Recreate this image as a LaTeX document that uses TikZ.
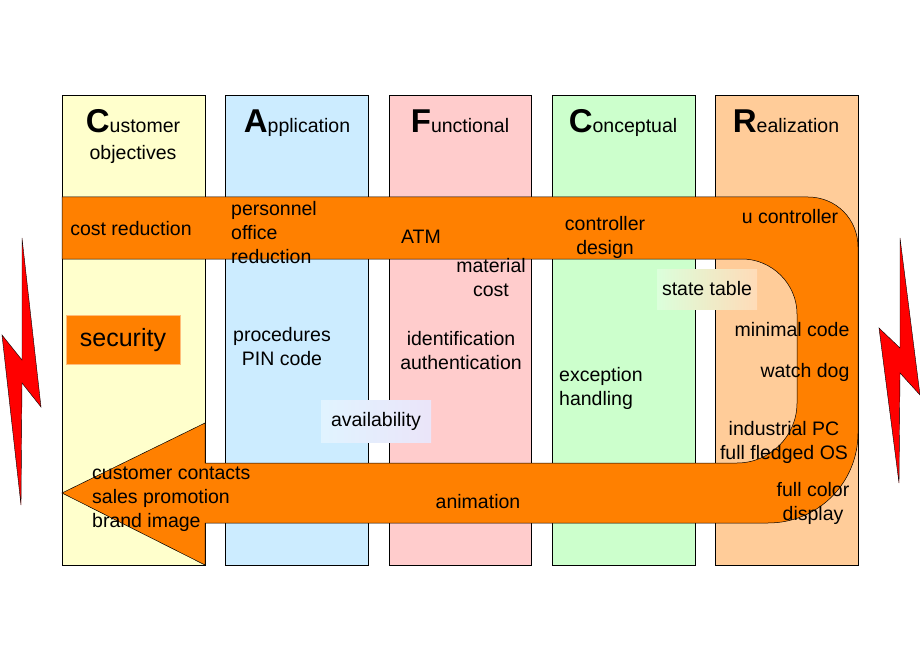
\documentclass[tikz,border=0pt]{standalone}
\usepackage{fontspec}
\setmainfont{Liberation Sans}
\begin{document}
\begin{tikzpicture}[x=1pt,y=-1pt,
  col/.style={draw=black,line width=0.6pt},
  lab/.style={font=\fontsize{19.5}{24}\selectfont,inner sep=0pt,align=center},
  labl/.style={lab,align=left,anchor=west},
  hdr/.style={font=\fontsize{19.5}{24}\selectfont,inner sep=0pt,anchor=base}]
\definecolor{cy}{HTML}{FFFFCC}\definecolor{cb}{HTML}{CCECFF}
\definecolor{cp}{HTML}{FFCCCC}\definecolor{cg}{HTML}{CCFFCC}
\definecolor{ct}{HTML}{FFCC99}\definecolor{or}{HTML}{FF8000}
\useasboundingbox (0,0) rectangle (920,660);
\fill[cy,col] (62,95) rectangle (205,565);
\fill[cb,col] (225,95) rectangle (368,565);
\fill[cp,col] (389,95) rectangle (531,565);
\fill[cg,col] (552,95) rectangle (695,565);
\fill[ct,col] (715,95) rectangle (858,565);
\filldraw[fill=or,draw=black,line width=0.5pt] (62,197) -- (808,197) .. controls (836,197) and (858,219) .. (858,247)
 -- (858,433) .. controls (858,483) and (818,523) .. (768,523) -- (205,523) -- (205,565) -- (62,493) -- (205,423) -- (205,463)
 -- (737,463) .. controls (770,463) and (797,436) .. (797,403) -- (797,314) .. controls (797,284) and (772,259) .. (742,259) -- (62,259) -- cycle;
\node[draw=ct!80!or,fill=or,minimum width=114pt,minimum height=49pt,font=\fontsize{25}{25}\selectfont] (sec) at (123,340) {security};
\node[left color=cg!70!white,right color=ct!70!white,minimum width=100pt,minimum height=40pt,lab] (st) at (707,289) {state table};
\node[left color=cb!60!white,right color=cp!60!blue!20!white,minimum width=110pt,minimum height=42pt,lab] (av) at (376,421) {availability};
% headers
\node[hdr] (h1) at (133,133) {{\fontsize{33}{33}\selectfont\bfseries C}ustomer};
\node[lab] (h1b) at (133,154) {objectives};
\node[hdr] (h2) at (297,133) {{\fontsize{33}{33}\selectfont\bfseries A}pplication};
\node[hdr] (h3) at (460,133) {{\fontsize{33}{33}\selectfont\bfseries F}unctional};
\node[hdr] (h4) at (623,133) {{\fontsize{33}{33}\selectfont\bfseries C}onceptual};
\node[hdr] (h5) at (786,133) {{\fontsize{33}{33}\selectfont\bfseries R}ealization};
% labels
\node[lab] (t1) at (131,229) {cost reduction};
\node[labl] (t2) at (231,233) {personnel\\office\\reduction};
\node[lab] (t3) at (421,237) {ATM};
\node[lab] (t4) at (605,237) {controller\\design};
\node[lab] (t5) at (790,217) {u controller};
\node[lab] (t6) at (491,278) {material\\cost};
\node[lab] (t7) at (792,330) {minimal code};
\node[lab] (t8) at (805,372) {watch dog};
\node[lab] (t9) at (784,442) {industrial PC\\full fledged OS};
\node[lab] (t10) at (813,503) {full color\\display};
\node[lab] (t11) at (282,347) {procedures\\PIN code};
\node[lab] (t12) at (461,351) {identification\\authentication};
\node[labl] (t13) at (559,388) {exception\\handling};
\node[labl] (t14) at (92,499) {customer contacts\\sales promotion\\brand image};
\node[lab] (t15) at (478,502) {animation};
% lightning
\filldraw[fill=red,draw=black,line width=0.4pt] (22,238) -- (41,407) -- (22,383) -- (21,505) -- (2,335) -- (22,360) -- cycle;
\filldraw[fill=red,draw=black,line width=0.4pt] (900,238) -- (920,395) -- (900,373) -- (899,483) -- (879,328) -- (900,348) -- cycle;
\end{tikzpicture}
\end{document}
